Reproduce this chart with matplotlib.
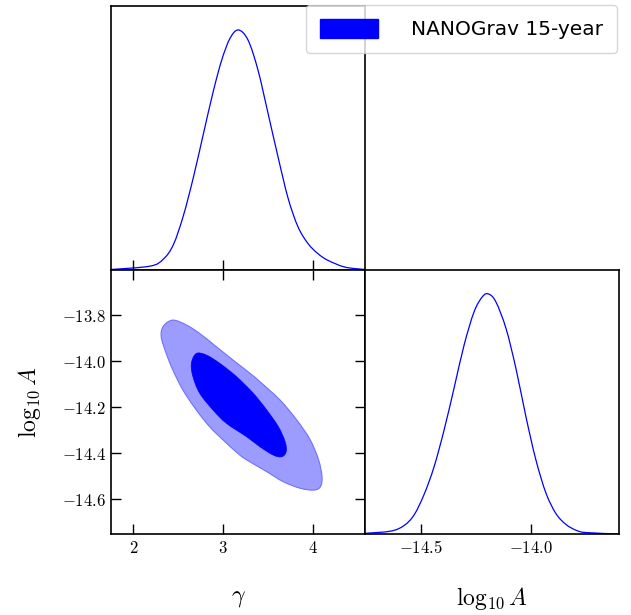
import matplotlib
matplotlib.use("Agg")
import matplotlib.pyplot as plt
from matplotlib.ticker import FuncFormatter
from matplotlib.patches import Patch, PathPatch
from matplotlib.path import Path

plt.rcParams["mathtext.fontset"] = "cm"
plt.rcParams["axes.linewidth"] = 1.2

LABEL = "NANOGrav 15-year"

# 1D marginal of gamma (normalised to peak = 1)
gamma_x = [1.751, 2.186, 2.334, 2.446, 2.557, 2.669, 2.780, 2.892, 2.986, 3.078,
           3.171, 3.279, 3.390, 3.502, 3.613, 3.725, 3.836, 3.948, 4.059, 4.171,
           4.360, 4.583]
gamma_p = [0.002, 0.016, 0.045, 0.105, 0.225, 0.385, 0.565, 0.745, 0.875, 0.965,
           1.000, 0.958, 0.833, 0.653, 0.472, 0.300, 0.180, 0.110, 0.068, 0.040,
           0.012, 0.002]

# 1D marginal of log10 A
loga_x = [-14.749, -14.636, -14.576, -14.530, -14.485, -14.440, -14.395, -14.349,
          -14.304, -14.259, -14.221, -14.194, -14.161, -14.115, -14.070, -14.025,
          -13.980, -13.934, -13.889, -13.844, -13.799, -13.753, -13.600]
loga_p = [0.003, 0.012, 0.035, 0.080, 0.165, 0.280, 0.432, 0.610,
          0.788, 0.926, 0.989, 1.000, 0.968, 0.857, 0.690, 0.490,
          0.310, 0.170, 0.085, 0.040, 0.016, 0.006, 0.000]

# 2D credible regions (95% outer, 68% inner)
outer_g = [2.441, 2.591, 2.740, 2.927, 3.113, 3.300, 3.413, 3.637, 3.824, 3.973,
           4.066, 4.104, 4.085, 4.010, 3.861, 3.674, 3.488, 3.300, 3.188, 3.001,
           2.852, 2.703, 2.553, 2.441, 2.367, 2.311, 2.336]
outer_a = [-13.822, -13.843, -13.880, -13.938, -13.996, -14.053, -14.090, -14.170,
           -14.257, -14.343, -14.430, -14.503, -14.547, -14.561, -14.553, -14.525,
           -14.481, -14.438, -14.409, -14.343, -14.286, -14.213, -14.126, -14.039,
           -13.967, -13.894, -13.848]
inner_g = [2.703, 2.815, 2.964, 3.151, 3.337, 3.488, 3.618, 3.693, 3.704, 3.656,
           3.562, 3.413, 3.263, 3.039, 2.889, 2.740, 2.665, 2.647]
inner_a = [-13.967, -13.974, -14.010, -14.068, -14.140, -14.213, -14.286, -14.351,
           -14.394, -14.416, -14.409, -14.373, -14.329, -14.271, -14.213, -14.140,
           -14.068, -14.010]

gamma_lim = (1.751, 4.583)
loga_lim = (-14.752, -13.604)
gamma_ticks = [2, 3, 4]
loga_ticks_2d = [-13.8, -14.0, -14.2, -14.4, -14.6]
loga_ticks_1d = [-14.5, -14.0]


def smooth_path(xs, ys, closed=False):
    # draw the traced points as a smooth curve (cubic bezier segments)
    pts = list(zip(xs, ys))
    n = len(pts)
    if closed:
        get = lambda i: pts[i % n]
        nseg = n
    else:
        get = lambda i: pts[min(max(i, 0), n - 1)]
        nseg = n - 1
    verts = [pts[0]]
    codes = [Path.MOVETO]
    for i in range(nseg):
        p0, p1, p2, p3 = get(i - 1), get(i), get(i + 1), get(i + 2)
        c1 = (p1[0] + (p2[0] - p0[0]) / 6, p1[1] + (p2[1] - p0[1]) / 6)
        c2 = (p2[0] - (p3[0] - p1[0]) / 6, p2[1] - (p3[1] - p1[1]) / 6)
        verts += [c1, c2, p2]
        codes += [Path.CURVE4] * 3
    if closed:
        verts.append(pts[0])
        codes.append(Path.CLOSEPOLY)
    return Path(verts, codes)


fig = plt.figure(figsize=(6.31, 6.15), dpi=100)
w, h = 0.4025, 0.4293
ax_g = fig.add_axes([0.1759, 0.561, w, h])
ax_2d = fig.add_axes([0.1759, 0.1317, w, h])
ax_a = fig.add_axes([0.5785, 0.1317, w, h])

fmt1 = FuncFormatter(lambda v, p: "$%g$" % v)
fmt2 = FuncFormatter(lambda v, p: "$%.1f$" % v)
tick_kw = dict(direction="in", length=7, width=1.0, labelsize=12)

# top: gamma marginal
ax_g.add_patch(PathPatch(smooth_path(gamma_x, gamma_p), fill=False,
                         edgecolor="blue", lw=0.9))
ax_g.set_xlim(gamma_lim)
ax_g.set_ylim(0, 1.1)
ax_g.set_xticks(gamma_ticks)
ax_g.set_yticks([])
ax_g.tick_params(axis="x", labelbottom=False, **tick_kw)

# 2D panel
ax_2d.add_patch(PathPatch(smooth_path(outer_g, outer_a, closed=True),
                          facecolor="#9c9cff", edgecolor="#7070ff", lw=0.8))
ax_2d.add_patch(PathPatch(smooth_path(inner_g, inner_a, closed=True),
                          facecolor="#0000ff", edgecolor="#0000ff", lw=0.5))
ax_2d.set_xlim(gamma_lim)
ax_2d.set_ylim(loga_lim)
ax_2d.set_xticks(gamma_ticks)
ax_2d.set_yticks(loga_ticks_2d)
ax_2d.xaxis.set_major_formatter(fmt1)
ax_2d.yaxis.set_major_formatter(fmt2)
ax_2d.tick_params(top=True, right=True, **tick_kw)
ax_2d.set_xlabel(r"$\gamma$", fontsize=17, labelpad=20)
ax_2d.set_ylabel(r"$\log_{10} A$", fontsize=17, labelpad=14)

# bottom right: log10 A marginal
ax_a.add_patch(PathPatch(smooth_path(loga_x, loga_p), fill=False,
                         edgecolor="blue", lw=0.9))
ax_a.set_xlim(loga_lim)
ax_a.set_ylim(0, 1.1)
ax_a.set_xticks(loga_ticks_1d)
ax_a.set_yticks([])
ax_a.xaxis.set_major_formatter(fmt2)
ax_a.tick_params(axis="x", **tick_kw)
ax_a.set_xlabel(r"$\log_{10} A$", fontsize=17, labelpad=20)

handle = Patch(facecolor="blue", edgecolor="blue")
fig.legend([handle], [LABEL], loc="upper right",
           bbox_to_anchor=(617 / 631, 1 - 5 / 615), borderaxespad=0,
           fontsize=14.5, handlelength=2.85, handleheight=1.05, handletextpad=1.65,
           borderpad=0.7, fancybox=True)

fig.savefig("out.png", dpi=100)
